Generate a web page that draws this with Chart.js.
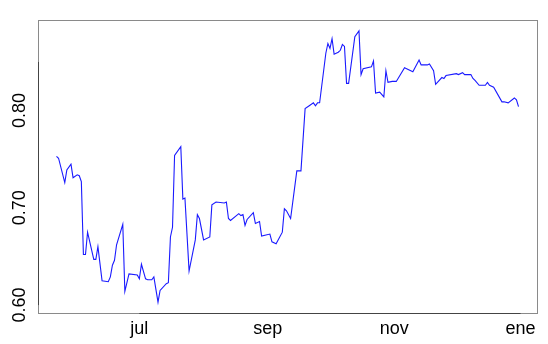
<!DOCTYPE html>
<html>
<head>
<meta charset="utf-8">
<script src="https://cdn.jsdelivr.net/npm/chart.js@4.4.1/dist/chart.umd.min.js"></script>
<style>
  html, body { margin: 0; padding: 0; background: #fff; overflow: hidden; }
  #wrap { width: 548px; height: 344px; }
  canvas { display: block; }
</style>
</head>
<body>
<div id="wrap"><canvas id="chart" width="548" height="344"></canvas></div>
<script>
// serie diaria (vértices)
const dates = [
  '2019-05-22','2019-05-23','2019-05-26','2019-05-27','2019-05-29','2019-05-30','2019-06-01','2019-06-02','2019-06-03','2019-06-04',
  '2019-06-05','2019-06-06','2019-06-09','2019-06-10','2019-06-11','2019-06-13','2019-06-16','2019-06-17','2019-06-18','2019-06-19',
  '2019-06-20','2019-06-23','2019-06-24','2019-06-26','2019-06-30','2019-07-01','2019-07-02','2019-07-04','2019-07-05','2019-07-07',
  '2019-07-08','2019-07-10','2019-07-11','2019-07-14','2019-07-15','2019-07-16','2019-07-17','2019-07-18','2019-07-21','2019-07-22',
  '2019-07-23','2019-07-25','2019-07-28','2019-07-29','2019-07-30','2019-08-01','2019-08-04','2019-08-05','2019-08-07','2019-08-11',
  '2019-08-12','2019-08-13','2019-08-14','2019-08-18','2019-08-19','2019-08-20','2019-08-21','2019-08-22','2019-08-25','2019-08-26',
  '2019-08-28','2019-08-29','2019-09-02','2019-09-03','2019-09-05','2019-09-08','2019-09-09','2019-09-10','2019-09-12','2019-09-15',
  '2019-09-17','2019-09-19','2019-09-21','2019-09-23','2019-09-24','2019-09-25','2019-09-26','2019-09-29','2019-09-30','2019-10-01',
  '2019-10-02','2019-10-03','2019-10-05','2019-10-06','2019-10-07','2019-10-08','2019-10-09','2019-10-10','2019-10-13','2019-10-15',
  '2019-10-16','2019-10-17','2019-10-21','2019-10-22','2019-10-23','2019-10-25','2019-10-27','2019-10-28','2019-10-29','2019-10-31',
  '2019-11-02','2019-11-06','2019-11-07','2019-11-10','2019-11-13','2019-11-14','2019-11-17','2019-11-18','2019-11-20','2019-11-21',
  '2019-11-24','2019-11-25','2019-11-26','2019-12-01','2019-12-02','2019-12-04','2019-12-05','2019-12-08','2019-12-09','2019-12-10',
  '2019-12-12','2019-12-15','2019-12-16','2019-12-17','2019-12-19','2019-12-23','2019-12-24','2019-12-26','2019-12-29','2019-12-30',
  '2019-12-31'
];
const values = [
  0.753, 0.751, 0.726, 0.739, 0.745, 0.731, 0.734, 0.733, 0.727, 0.652,
  0.652, 0.675, 0.647, 0.647, 0.660, 0.625, 0.624, 0.629, 0.641, 0.646,
  0.662, 0.683, 0.614, 0.632, 0.631, 0.627, 0.642, 0.627, 0.626, 0.626,
  0.629, 0.603, 0.615, 0.622, 0.623, 0.670, 0.680, 0.754, 0.763, 0.709,
  0.710, 0.635, 0.667, 0.693, 0.689, 0.667, 0.670, 0.703, 0.706, 0.705,
  0.706, 0.689, 0.687, 0.694, 0.692, 0.693, 0.682, 0.688, 0.695, 0.684,
  0.686, 0.671, 0.673, 0.665, 0.663, 0.675, 0.699, 0.697, 0.689, 0.738,
  0.738, 0.802, 0.805, 0.808, 0.805, 0.808, 0.808, 0.859, 0.869, 0.864,
  0.874, 0.858, 0.860, 0.862, 0.868, 0.866, 0.828, 0.828, 0.876, 0.882,
  0.837, 0.843, 0.845, 0.851, 0.818, 0.819, 0.814, 0.841, 0.829, 0.830,
  0.830, 0.844, 0.843, 0.840, 0.852, 0.847, 0.847, 0.848, 0.841, 0.827,
  0.834, 0.833, 0.836, 0.838, 0.837, 0.839, 0.837, 0.837, 0.833, 0.831,
  0.826, 0.826, 0.829, 0.826, 0.824, 0.809, 0.809, 0.808, 0.813, 0.811,
  0.804
];
const xTickDates = ['2019-07-01', '2019-09-01', '2019-11-01', '2020-01-01'];
const xTickLabels = ['jul', 'sep', 'nov', 'ene'];
const yTicks = [0.60, 0.65, 0.70, 0.75, 0.80, 0.85];
const yTickLabels = ['0.60', '', '0.70', '', '0.80', ''];

const xs = dates.map(d => Date.parse(d));
const points = xs.map((x, i) => ({ x: x, y: values[i] }));

// rango con 4% de margen, como en R
function padRange(arr) {
  const lo = Math.min(...arr), hi = Math.max(...arr);
  const p = (hi - lo) * 0.04;
  return [lo - p, hi + p];
}
const [xMin, xMax] = padRange(xs);
const [yMin, yMax] = padRange(values);
const xTickVals = xTickDates.map(d => Date.parse(d));

const FONT = '"Liberation Sans", Arial, sans-serif';

const frame = {
  id: 'frame',
  afterDraw(chart) {
    const { ctx, chartArea: a, scales } = chart;
    ctx.save();
    // caja
    ctx.strokeStyle = '#8a8a8a';
    ctx.lineWidth = 1;
    ctx.strokeRect(Math.round(a.left) + 0.5, Math.round(a.top) + 0.5,
      Math.round(a.right - a.left), Math.round(a.bottom - a.top));
    // línea de ejes entre primer y último tick
    ctx.strokeStyle = '#444';
    const yb = Math.round(a.bottom) + 0.5;
    ctx.beginPath();
    ctx.moveTo(scales.x.getPixelForValue(xTickVals[0]), yb);
    ctx.lineTo(scales.x.getPixelForValue(xTickVals[xTickVals.length - 1]), yb);
    ctx.stroke();
    const xl = Math.round(a.left) + 0.5;
    ctx.beginPath();
    ctx.moveTo(xl, scales.y.getPixelForValue(yTicks[0]));
    ctx.lineTo(xl, scales.y.getPixelForValue(yTicks[yTicks.length - 1]));
    ctx.stroke();
    // etiquetas del eje y, giradas
    ctx.fillStyle = '#000';
    ctx.font = '18px ' + FONT;
    ctx.textAlign = 'center';
    ctx.textBaseline = 'alphabetic';
    yTicks.forEach((v, i) => {
      if (!yTickLabels[i]) return;
      const py = scales.y.getPixelForValue(v);
      ctx.save();
      ctx.translate(25, py);
      ctx.rotate(-Math.PI / 2);
      ctx.fillText(yTickLabels[i], 0, 0);
      ctx.restore();
    });
    ctx.restore();
  }
};

new Chart(document.getElementById('chart'), {
  type: 'line',
  data: {
    datasets: [{
      data: points,
      borderColor: '#1a1aff',
      borderWidth: 1.1,
      pointRadius: 0,
      tension: 0,
      fill: false
    }]
  },
  options: {
    responsive: false,
    animation: false,
    layout: { padding: { top: 20, right: 11, left: 0, bottom: 0 } },
    plugins: { legend: { display: false }, tooltip: { enabled: false } },
    scales: {
      x: {
        type: 'linear',
        min: xMin,
        max: xMax,
        grid: { display: false, drawTicks: false },
        border: { display: false },
        afterBuildTicks: s => { s.ticks = xTickVals.map(v => ({ value: v })); },
        afterFit: s => { s.height = 31; },
        ticks: {
          autoSkip: false,
          maxRotation: 0,
          padding: 5,
          color: '#000',
          font: { size: 18, family: FONT },
          callback: (v) => xTickLabels[xTickVals.indexOf(v)]
        }
      },
      y: {
        min: yMin,
        max: yMax,
        grid: { display: false, drawTicks: false },
        border: { display: false },
        afterBuildTicks: s => { s.ticks = yTicks.map(v => ({ value: v })); },
        afterFit: s => { s.width = 38; },
        ticks: { display: false }
      }
    }
  },
  plugins: [frame]
});
</script>
</body>
</html>
